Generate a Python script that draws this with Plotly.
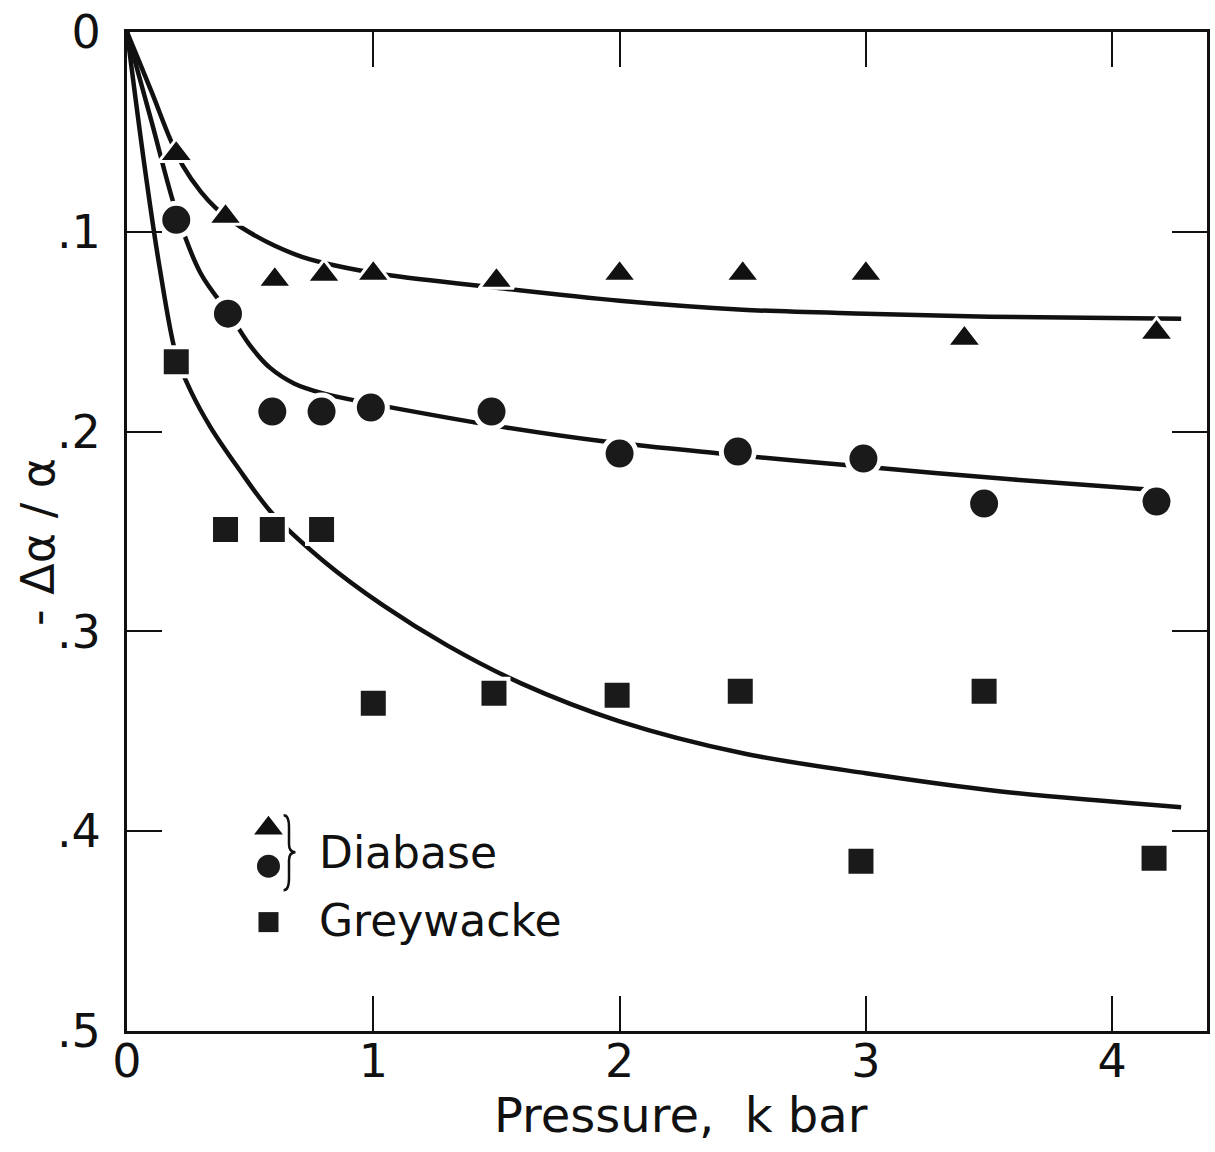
import plotly.graph_objects as go

# ---------------- data ----------------
# measured points
tri_p = [0.2, 0.4, 0.6, 0.8, 1.0, 1.5, 2.0, 2.5, 3.0, 3.4, 4.18]
tri_v = [0.061, 0.0925, 0.124, 0.1215, 0.121, 0.1245, 0.121, 0.121, 0.121, 0.1535, 0.1505]

circ_p = [0.2, 0.41, 0.59, 0.79, 0.99, 1.48, 2.0, 2.48, 2.99, 3.48, 4.18]
circ_v = [0.094, 0.141, 0.19, 0.19, 0.188, 0.19, 0.211, 0.21, 0.2135, 0.236, 0.235]

sq_p = [0.2, 0.4, 0.59, 0.79, 1.0, 1.49, 1.99, 2.49, 2.98, 3.48, 4.17]
sq_v = [0.165, 0.249, 0.249, 0.249, 0.336, 0.331, 0.332, 0.330, 0.415, 0.330, 0.4135]

# hand-drawn fitted curves
tri_fit_p = [0, 0.1, 0.175, 0.227, 0.3, 0.36, 0.42, 0.5, 0.6, 0.71, 0.85, 1.05, 1.5, 2.0, 2.5, 3.0, 3.5, 4.28]
tri_fit_v = [0, 0.03, 0.0535, 0.067, 0.08, 0.088, 0.094, 0.1005, 0.107, 0.1125, 0.117, 0.1215, 0.128, 0.1345, 0.139, 0.141, 0.1425, 0.1435]

circ_fit_p = [0, 0.1, 0.2, 0.3, 0.42, 0.5, 0.58, 0.68, 0.8, 0.95, 1.12, 1.49, 1.94, 2.41, 2.94, 3.6, 4.2]
circ_fit_v = [0, 0.045, 0.09, 0.121, 0.142, 0.157, 0.168, 0.176, 0.181, 0.185, 0.189, 0.197, 0.205, 0.211, 0.217, 0.224, 0.2295]

sq_fit_p = [0, 0.07, 0.13, 0.2, 0.26, 0.34, 0.45, 0.59, 0.8, 1.04, 1.3, 1.6, 2.0, 2.5, 3.0, 3.54, 4.28]
sq_fit_v = [0, 0.066, 0.116, 0.162, 0.18, 0.198, 0.218, 0.241, 0.265, 0.287, 0.307, 0.326, 0.345, 0.361, 0.371, 0.38, 0.388]

x_ticks = [0, 1, 2, 3, 4]
x_ticktext = ["0", "1", "2", "3", "4"]
y_ticks = [0, 0.1, 0.2, 0.3, 0.4, 0.5]
y_ticktext = ["0", ".1", ".2", ".3", ".4", ".5"]

# ---------------- figure ----------------
FONT = "DejaVu Sans"
INK = "#111111"

fig = go.Figure()

for px_, pv_ in [(tri_fit_p, tri_fit_v), (circ_fit_p, circ_fit_v), (sq_fit_p, sq_fit_v)]:
    fig.add_trace(go.Scatter(
        x=px_, y=pv_, mode="lines",
        line=dict(color=INK, width=4.5, shape="spline", smoothing=0.9),
        hoverinfo="skip", showlegend=False))

fig.add_trace(go.Scatter(
    x=tri_p, y=tri_v, mode="markers", name="Diabase",
    marker=dict(symbol="triangle-up", size=30, color=INK, line=dict(color="white", width=3)),
    showlegend=False))
fig.add_trace(go.Scatter(
    x=circ_p, y=circ_v, mode="markers", name="Diabase",
    marker=dict(symbol="circle", size=33, color="#1a1a1a", line=dict(color="white", width=5)),
    showlegend=False))
fig.add_trace(go.Scatter(
    x=sq_p, y=sq_v, mode="markers", name="Greywacke",
    marker=dict(symbol="square", size=29, color="#1a1a1a", line=dict(color="white", width=4)),
    showlegend=False))

# legend keys drawn on an overlay axis spanning the plot area (0..1)
fig.add_trace(go.Scatter(
    x=[0.131], y=[0.203], xaxis="x2", yaxis="y2", mode="markers",
    marker=dict(symbol="triangle-up", size=25, color=INK), hoverinfo="skip", showlegend=False))
fig.add_trace(go.Scatter(
    x=[0.131], y=[0.165], xaxis="x2", yaxis="y2", mode="markers",
    marker=dict(symbol="circle", size=23, color="#1a1a1a"), hoverinfo="skip", showlegend=False))
fig.add_trace(go.Scatter(
    x=[0.131], y=[0.109], xaxis="x2", yaxis="y2", mode="markers",
    marker=dict(symbol="square", size=20, color="#1a1a1a"), hoverinfo="skip", showlegend=False))

axis_common = dict(
    showgrid=False, zeroline=False, showline=True, linecolor=INK, linewidth=3,
    mirror="allticks", ticks="inside", ticklen=35, tickwidth=2, tickcolor=INK,
    tickfont=dict(family=FONT, size=46, color=INK),
)

# brace grouping the two Diabase symbols (paper coordinates)
bx0, bx1, bx2 = 0.145, 0.150, 0.156
byt, bym, byb = 0.216, 0.179, 0.141
brace = (f"M {bx0},{byt} Q {bx1},{byt} {bx1},{byt-0.012} "
         f"L {bx1},{bym+0.008} Q {bx1},{bym} {bx2},{bym} "
         f"Q {bx1},{bym} {bx1},{bym-0.008} "
         f"L {bx1},{byb+0.012} Q {bx1},{byb} {bx0},{byb}")

fig.update_layout(
    width=1215, height=1152,
    margin=dict(l=127, r=5, t=30, b=121),
    paper_bgcolor="white", plot_bgcolor="white",
    showlegend=False,
    xaxis=dict(range=[0, 4.385], tickvals=x_ticks, ticktext=x_ticktext,
               ticklabelstandoff=-12, **axis_common),
    yaxis=dict(range=[0.5, 0], tickvals=y_ticks, ticktext=y_ticktext,
               ticklabelstandoff=14, **axis_common),
    xaxis2=dict(range=[0, 1], overlaying="x", visible=False),
    yaxis2=dict(range=[0, 1], overlaying="y", visible=False),
    shapes=[dict(type="path", path=brace, xref="paper", yref="paper",
                 line=dict(color=INK, width=2.5))],
    annotations=[
        dict(text="Pressure,  k bar", xref="paper", yref="paper", x=0.513, y=-0.084,
             showarrow=False, font=dict(family=FONT, size=48, color=INK),
             xanchor="center", yanchor="middle"),
        dict(text="- Δα / α", xref="paper", yref="paper", x=-0.082, y=0.49,
             showarrow=False, textangle=-90, font=dict(family=FONT, size=46, color=INK),
             xanchor="center", yanchor="middle"),
        dict(text="Diabase", xref="paper", yref="paper", x=0.176, y=0.179,
             showarrow=False, font=dict(family=FONT, size=44, color=INK),
             xanchor="left", yanchor="middle"),
        dict(text="Greywacke", xref="paper", yref="paper", x=0.176, y=0.111,
             showarrow=False, font=dict(family=FONT, size=44, color=INK),
             xanchor="left", yanchor="middle"),
    ],
)

fig.write_html("out.html")
